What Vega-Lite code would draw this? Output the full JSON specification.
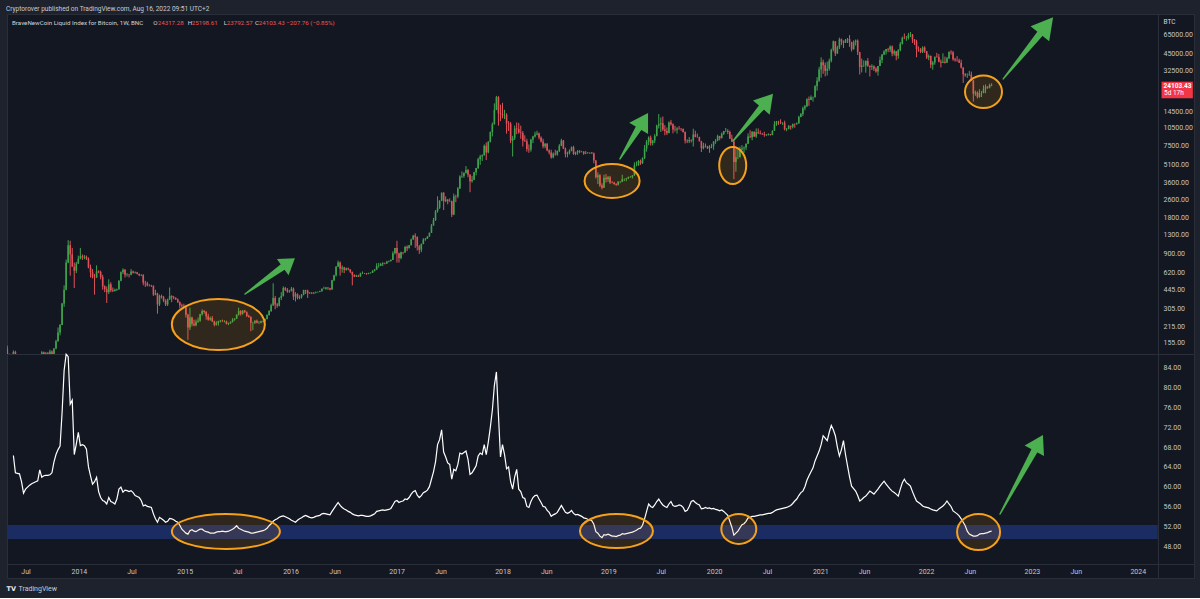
{
"$schema": "https://vega.github.io/schema/vega-lite/v6.json",
"background": "#1e222d",
"bounds": "flush",
"padding": {"left": 6, "right": 7, "top": 6, "bottom": 5},
"config": {
  "font": "Roboto",
  "view": {"fill": "#131722", "stroke": "#2a2e39", "strokeWidth": 1},
  "axis": {"grid": false, "ticks": false, "labelColor": "#c3c6ce", "labelFontSize": 7, "labelFont": "Roboto", "domainColor": "#2a2e39", "domainWidth": 1, "labelFlush": false, "labelOverlap": false}
},
"title": {"text": "Cryptorover published on TradingView.com, Aug 16, 2022 09:51 UTC+2", "anchor": "start", "fontSize": 6.5, "fontWeight": "normal", "color": "#c9ccd4", "offset": 1},
"data": {
  "values": "d,o,h,l,c,r\n2013-04-29,139,147,79,112,\n2013-05-06,112,126,106,117,\n2013-05-13,117,125,111,122,\n2013-05-20,122,134,119,130,66.3\n2013-05-27,130,133,112,122,62.8\n2013-06-03,122,124,100,105,62.7\n2013-06-10,105,111,97,100,62.6\n2013-06-17,100,111,97,103,61\n2013-06-24,103,106,84,89,58.7\n2013-07-01,89,92,65,76,59.5\n2013-07-08,76,98,72,96,59.9\n2013-07-15,96,100,86,93,60.3\n2013-07-22,93,97,89,96,60.6\n2013-07-29,96,106,94,104,60.8\n2013-08-05,104,106,98,103,61\n2013-08-12,103,111,101,110,61.2\n2013-08-19,110,124,109,120,63.4\n2013-08-26,120,132,118,129,61.9\n2013-09-02,129,131,110,118,62.2\n2013-09-09,118,130,115,127,62.3\n2013-09-16,127,130,123,125,62.3\n2013-09-23,125,136,122,131,62.4\n2013-09-30,131,134,109,125,62.8\n2013-10-07,125,140,124,139,65\n2013-10-14,139,165,137,160,66.5\n2013-10-21,160,210,159,190,67.5\n2013-10-28,190,225,180,221,68.2\n2013-11-04,221,340,220,336,75\n2013-11-11,336,480,315,440,83.5\n2013-11-18,440,795,435,750,86.8\n2013-11-25,750,1163,740,1055,86.3\n2013-12-02,1055,1150,580,880,76.7\n2013-12-09,880,1000,800,690,77.5\n2013-12-16,690,750,455,640,66.5\n2013-12-23,640,760,610,735,68.6\n2013-12-30,735,860,730,810,71\n2014-01-06,810,1000,800,850,68.3\n2014-01-13,850,880,790,830,68.5\n2014-01-20,830,870,800,840,68.3\n2014-01-27,840,860,790,810,67.6\n2014-02-03,810,830,670,680,64\n2014-02-10,680,720,560,620,62.2\n2014-02-17,620,660,550,565,60.5\n2014-02-24,565,600,400,560,61\n2014-03-03,560,710,555,630,61.9\n2014-03-10,630,645,610,625,59\n2014-03-17,625,640,540,565,57.8\n2014-03-24,565,590,440,470,57.2\n2014-03-31,470,480,420,445,57\n2014-04-07,445,470,340,420,56.5\n2014-04-14,420,540,405,490,57.8\n2014-04-21,490,510,420,435,57\n2014-04-28,435,460,420,430,56.8\n2014-05-05,430,450,425,440,56.5\n2014-05-12,440,450,430,445,57.5\n2014-05-19,445,530,440,525,59.5\n2014-05-26,525,630,520,620,59.9\n2014-06-02,620,670,600,650,58.9\n2014-06-09,650,660,560,590,59.3\n2014-06-16,590,610,570,595,59.2\n2014-06-23,595,600,560,590,59\n2014-06-30,590,660,585,630,59.2\n2014-07-07,630,640,605,615,58.8\n2014-07-14,615,630,605,620,58.2\n2014-07-21,620,625,595,600,58\n2014-07-28,600,605,575,585,57.8\n2014-08-04,585,595,575,590,57.2\n2014-08-11,590,595,480,505,56.1\n2014-08-18,505,525,465,500,56.3\n2014-08-25,500,515,470,480,56\n2014-09-01,480,490,470,478,55.9\n2014-09-08,478,485,465,475,55.8\n2014-09-15,475,480,390,400,54.5\n2014-09-22,400,440,395,410,53.5\n2014-09-29,410,415,275,330,52.8\n2014-10-06,330,400,320,390,53.8\n2014-10-13,390,400,370,380,53.5\n2014-10-20,380,390,345,355,53.2\n2014-10-27,355,365,320,330,52.8\n2014-11-03,330,370,320,365,53\n2014-11-10,365,460,360,390,53.6\n2014-11-17,390,395,345,380,53.5\n2014-11-24,380,390,365,375,53.3\n2014-12-01,375,380,360,365,53\n2014-12-08,365,370,340,345,52.8\n2014-12-15,345,350,305,325,52.2\n2014-12-22,325,335,312,318,51.4\n2014-12-29,318,335,310,315,51\n2015-01-05,315,320,255,270,50.6\n2015-01-12,270,275,165,210,50.4\n2015-01-19,210,310,200,255,51.1\n2015-01-26,255,260,215,225,51.3\n2015-02-02,225,245,215,220,51\n2015-02-09,220,245,215,235,50.9\n2015-02-16,235,255,230,240,51.2\n2015-02-23,240,275,235,272,51.4\n2015-03-02,272,300,265,290,51.4\n2015-03-09,290,296,275,285,51.1\n2015-03-16,285,290,245,262,50.9\n2015-03-23,262,275,240,245,50.8\n2015-03-30,245,260,240,253,50.6\n2015-04-06,253,263,235,236,50.6\n2015-04-13,236,240,215,222,50.6\n2015-04-20,222,237,218,230,50.8\n2015-04-27,230,240,218,238,50.9\n2015-05-04,238,243,232,240,50.9\n2015-05-11,240,245,235,237,51\n2015-05-18,237,242,232,237,50.9\n2015-05-25,237,240,223,225,50.9\n2015-06-01,225,231,220,228,51\n2015-06-08,228,237,226,234,51.2\n2015-06-15,234,252,232,245,51.4\n2015-06-22,245,251,240,250,51.7\n2015-06-29,250,272,248,270,52.1\n2015-07-06,270,310,265,290,51.6\n2015-07-13,290,295,265,275,51.4\n2015-07-20,275,296,270,292,51.2\n2015-07-27,292,297,280,283,51\n2015-08-03,283,288,258,263,50.9\n2015-08-10,263,270,255,258,50.8\n2015-08-17,258,262,195,230,50.6\n2015-08-24,230,235,199,230,50.6\n2015-08-31,230,242,225,240,50.7\n2015-09-07,240,245,228,230,50.8\n2015-09-14,230,238,225,231,50.9\n2015-09-21,231,240,228,237,51\n2015-09-28,237,241,233,238,51.1\n2015-10-05,238,250,235,248,51.3\n2015-10-12,248,272,246,268,51.6\n2015-10-19,268,295,265,290,52.1\n2015-10-26,290,335,285,325,52.5\n2015-11-02,325,500,320,375,53\n2015-11-09,375,390,300,330,53.3\n2015-11-16,330,340,310,322,53.5\n2015-11-23,322,380,318,375,53.8\n2015-11-30,375,420,360,390,54\n2015-12-07,390,470,385,455,54.1\n2015-12-14,455,465,430,440,53.9\n2015-12-21,440,455,415,425,53.7\n2015-12-28,425,440,415,430,53.5\n2016-01-04,430,465,425,450,53.2\n2016-01-11,450,460,360,385,53\n2016-01-18,385,420,350,405,52.8\n2016-01-25,405,410,365,375,53.2\n2016-02-01,375,395,365,383,53.5\n2016-02-08,383,405,370,400,53.7\n2016-02-15,400,440,395,438,54\n2016-02-22,438,440,405,432,54.2\n2016-02-29,432,440,375,412,54\n2016-03-07,412,420,405,415,53.8\n2016-03-14,415,420,405,410,53.7\n2016-03-21,410,420,405,416,53.8\n2016-03-28,416,425,410,420,54\n2016-04-04,420,425,417,422,54.1\n2016-04-11,422,432,420,428,54.2\n2016-04-18,428,452,425,448,54.5\n2016-04-25,448,468,445,450,54.6\n2016-05-02,450,465,440,460,54.5\n2016-05-09,460,462,440,454,54.4\n2016-05-16,454,457,435,443,54.3\n2016-05-23,443,535,440,530,55\n2016-05-30,530,590,520,585,55.6\n2016-06-06,585,700,570,690,56.2\n2016-06-13,690,780,690,750,56.8\n2016-06-20,750,765,580,665,56.2\n2016-06-27,665,710,615,680,55.8\n2016-07-04,680,690,610,650,55.5\n2016-07-11,650,680,640,670,55.3\n2016-07-18,670,680,645,656,55\n2016-07-25,656,660,610,625,54.8\n2016-08-01,625,628,480,590,54.5\n2016-08-08,590,595,565,570,54.3\n2016-08-15,570,590,565,580,54.2\n2016-08-22,580,590,565,570,54.1\n2016-08-29,570,615,568,606,54.2\n2016-09-05,606,630,600,608,54.2\n2016-09-12,608,612,600,607,54.1\n2016-09-19,607,610,590,600,54\n2016-09-26,600,615,597,610,54\n2016-10-03,610,620,605,615,54.1\n2016-10-10,615,645,612,640,54.3\n2016-10-17,640,660,630,655,54.5\n2016-10-24,655,740,650,700,55\n2016-10-31,700,745,680,705,55.1\n2016-11-07,705,745,700,730,55.2\n2016-11-14,730,755,700,740,55.3\n2016-11-21,740,750,725,735,55.2\n2016-11-28,735,775,730,765,55.3\n2016-12-05,765,780,755,775,55.4\n2016-12-12,775,800,765,790,55.6\n2016-12-19,790,935,790,900,56.3\n2016-12-26,900,1000,880,1000,57\n2017-01-02,1000,1150,750,900,57.2\n2017-01-09,900,910,750,820,56.8\n2017-01-16,820,930,800,920,57\n2017-01-23,920,925,880,915,57.1\n2017-01-30,915,1040,910,1020,57.5\n2017-02-06,1020,1050,940,995,57.4\n2017-02-13,995,1060,990,1055,57.8\n2017-02-20,1055,1200,1050,1180,58.5\n2017-02-27,1180,1290,1175,1270,59\n2017-03-06,1270,1330,1000,1240,59.2\n2017-03-13,1240,1255,950,1030,58.3\n2017-03-20,1030,1060,890,965,57.8\n2017-03-27,965,1090,920,1080,58.2\n2017-04-03,1080,1210,1075,1180,58.8\n2017-04-10,1180,1215,1150,1195,59\n2017-04-17,1195,1260,1190,1250,59.3\n2017-04-24,1250,1350,1245,1345,60\n2017-05-01,1345,1600,1340,1550,61.5\n2017-05-08,1550,1800,1550,1720,63\n2017-05-15,1720,2100,1700,2050,65\n2017-05-22,2050,2750,2000,2200,68.5\n2017-05-29,2200,2550,2150,2520,69.5\n2017-06-05,2520,2960,2500,2950,71.5\n2017-06-12,2950,2980,2100,2500,67\n2017-06-19,2500,2750,2450,2580,66\n2017-06-26,2580,2600,2350,2500,64.8\n2017-07-03,2500,2640,2450,2500,64.5\n2017-07-10,2500,2530,1830,1920,61.5\n2017-07-17,1920,2900,1900,2750,63.5\n2017-07-24,2750,2830,2450,2740,63.2\n2017-07-31,2740,3300,2650,3200,64.5\n2017-08-07,3200,4150,3180,4050,66.8\n2017-08-14,4050,4480,3950,4100,66.6\n2017-08-21,4100,4400,3950,4350,66.9\n2017-08-28,4350,4980,4300,4600,67.2\n2017-09-04,4600,4700,4000,4200,65.5\n2017-09-11,4200,4250,2980,3700,62.5\n2017-09-18,3700,4100,3600,3800,62.8\n2017-09-25,3800,4450,3770,4400,63.5\n2017-10-02,4400,4800,4150,4780,64.2\n2017-10-09,4780,5850,4700,5700,66.2\n2017-10-16,5700,6200,5100,6000,66.8\n2017-10-23,6000,6250,5500,6150,66.5\n2017-10-30,6150,7600,6100,7400,68.5\n2017-11-06,7400,7900,5600,6500,66.5\n2017-11-13,6500,8100,6400,8000,69\n2017-11-20,8000,9800,7900,9700,72\n2017-11-27,9700,11700,8900,11300,75.5\n2017-12-04,11300,17000,11200,15000,80.5\n2017-12-11,15000,19700,14900,19200,83.2\n2017-12-18,19200,19600,11000,14000,74.5\n2017-12-25,14000,16600,12000,13800,66\n2018-01-01,13800,17200,12700,13500,68.5\n2018-01-08,13500,15000,12500,13600,66.5\n2018-01-15,13600,14000,9400,11500,63.6\n2018-01-22,11500,12000,9900,11400,64\n2018-01-29,11400,11800,7800,8200,61\n2018-02-05,8200,9000,6000,8600,59.5\n2018-02-12,8600,11000,8300,10400,62\n2018-02-19,10400,11700,9300,10300,63.5\n2018-02-26,10300,11600,9400,9600,59.5\n2018-03-05,9600,11000,8500,9500,59\n2018-03-12,9500,9900,7300,8200,57.8\n2018-03-19,8200,9100,8000,8100,57.6\n2018-03-26,8100,8500,6600,6950,56\n2018-04-02,6950,7600,6450,6900,55.8\n2018-04-09,6900,8500,6600,8350,57\n2018-04-16,8350,9000,7800,8900,57.8\n2018-04-23,8900,9750,8700,9250,58.2\n2018-04-30,9250,9950,9100,9400,58.3\n2018-05-07,9400,9600,8400,8700,57.5\n2018-05-14,8700,8900,7900,8050,56.8\n2018-05-21,8050,8500,7050,7350,56\n2018-05-28,7350,7800,7050,7700,55.9\n2018-06-04,7700,7800,6650,6750,55.2\n2018-06-11,6750,6900,6250,6500,54.8\n2018-06-18,6500,6850,5750,5900,54\n2018-06-25,5900,6500,5800,6350,54.3\n2018-07-02,6350,6850,6100,6250,54.5\n2018-07-09,6250,6750,6100,6700,54.8\n2018-07-16,6700,7650,6550,7400,55.5\n2018-07-23,7400,8500,7350,8200,56.2\n2018-07-30,8200,8300,6950,7000,55.5\n2018-08-06,7000,7150,5900,6300,54.8\n2018-08-13,6300,6600,5900,6400,54.6\n2018-08-20,6400,6900,6250,6700,54.8\n2018-08-27,6700,7300,6650,7200,55.2\n2018-09-03,7200,7400,6200,6300,54.6\n2018-09-10,6300,6600,6150,6500,54.3\n2018-09-17,6500,6800,6200,6700,54.4\n2018-09-24,6700,6800,6400,6600,54.2\n2018-10-01,6600,6700,6500,6600,54\n2018-10-08,6600,6650,6200,6350,53.7\n2018-10-15,6350,6700,6300,6450,53.6\n2018-10-22,6450,6550,6350,6420,53.4\n2018-10-29,6420,6500,6300,6450,53.3\n2018-11-05,6450,6550,6350,6380,53.1\n2018-11-12,6380,6500,5250,5550,52.4\n2018-11-19,5550,5600,3900,4000,50.9\n2018-11-26,4000,4400,3500,4150,50.6\n2018-12-03,4150,4250,3300,3400,50\n2018-12-10,3400,3550,3150,3250,49.7\n2018-12-17,3250,4200,3250,3950,50.3\n2018-12-24,3950,4250,3600,3850,50.2\n2018-12-31,3850,4100,3650,4000,50.4\n2019-01-07,4000,4100,3500,3600,50.2\n2019-01-14,3600,3700,3550,3580,50\n2019-01-21,3580,3650,3450,3500,50\n2019-01-28,3500,3550,3380,3450,49.9\n2019-02-04,3450,3700,3400,3650,50.1\n2019-02-11,3650,3700,3550,3650,50.2\n2019-02-18,3650,4200,3640,3850,50.5\n2019-02-25,3850,3900,3700,3850,50.4\n2019-03-04,3850,3950,3700,3900,50.5\n2019-03-11,3900,4050,3850,4000,50.6\n2019-03-18,4000,4100,3950,4000,50.7\n2019-03-25,4000,4150,3900,4150,50.8\n2019-04-01,4150,5350,4100,5050,51\n2019-04-08,5050,5450,4950,5050,51.2\n2019-04-15,5050,5600,5000,5500,51.5\n2019-04-22,5500,5650,5100,5250,51.6\n2019-04-29,5250,5900,5200,5800,52.2\n2019-05-06,5800,7500,5700,7000,53.5\n2019-05-13,7000,8300,6600,8000,55\n2019-05-20,8000,8900,7500,8700,56.5\n2019-05-27,8700,9050,7450,7800,56\n2019-06-03,7800,8300,7450,8200,55.8\n2019-06-10,8200,9300,7800,9000,56.3\n2019-06-17,9000,11200,8900,11000,57\n2019-06-24,11000,13800,10400,11300,57.5\n2019-07-01,11300,12900,9700,11500,56.8\n2019-07-08,11500,13150,9900,10200,56.3\n2019-07-15,10200,11100,9100,9900,56\n2019-07-22,9900,10600,9150,9500,55.8\n2019-07-29,9500,11950,9450,11700,56.5\n2019-08-05,11700,12300,11000,11300,57\n2019-08-12,11300,11500,9450,10200,56.2\n2019-08-19,10200,10950,9800,10150,56\n2019-08-26,10150,10650,9400,10400,56.1\n2019-09-02,10400,10900,10150,10350,56.3\n2019-09-09,10350,10500,9900,10300,56.2\n2019-09-16,10300,10400,9600,9700,55.8\n2019-09-23,9700,9800,7750,8200,55\n2019-09-30,8200,8400,7800,8100,55.2\n2019-10-07,8100,8800,7800,8300,56\n2019-10-14,8300,8400,7900,8200,57\n2019-10-21,8200,10350,7300,9250,57.2\n2019-10-28,9250,9950,8750,8800,56.8\n2019-11-04,8800,9400,8700,8750,56.5\n2019-11-11,8750,8850,8050,8100,56.3\n2019-11-18,8100,8150,6550,7050,55.5\n2019-11-25,7050,7850,6900,7400,55.6\n2019-12-02,7400,7750,7150,7350,55.8\n2019-12-09,7350,7400,6950,7050,55.6\n2019-12-16,7050,7500,6450,7300,55.7\n2019-12-23,7300,7700,7050,7400,55.5\n2019-12-30,7400,8100,6850,8050,55.6\n2020-01-06,8050,8450,7700,8200,55.4\n2020-01-13,8200,9200,8100,8950,55.3\n2020-01-20,8950,9000,8250,8600,55.1\n2020-01-27,8600,9600,8550,9350,55.3\n2020-02-03,9350,9900,9150,9900,55\n2020-02-10,9900,10500,9700,9900,54.6\n2020-02-17,9900,10250,9300,9700,54.2\n2020-02-24,9700,9950,8450,8550,53\n2020-03-02,8550,9200,8000,8050,51.8\n2020-03-09,8050,8200,3850,5400,50.2\n2020-03-16,5400,6950,4450,5900,50.6\n2020-03-23,5900,6900,5700,5900,51\n2020-03-30,5900,7300,5900,6900,51.7\n2020-04-06,6900,7500,6750,7050,52.3\n2020-04-13,7050,7300,6450,7150,52.5\n2020-04-20,7150,7750,6800,7700,53\n2020-04-27,7700,9450,7650,8900,53.7\n2020-05-04,8900,10050,8600,8750,53.8\n2020-05-11,8750,9900,8250,9700,54\n2020-05-18,9700,9850,8800,8900,54\n2020-05-25,8900,10400,8650,9650,54.1\n2020-06-01,9650,10400,9350,9450,54.2\n2020-06-08,9450,10000,9250,9350,54.3\n2020-06-15,9350,9550,9200,9250,54.3\n2020-06-22,9250,9750,8850,9150,54.4\n2020-06-29,9150,9300,8950,9200,54.5\n2020-07-06,9200,9450,9050,9300,54.6\n2020-07-13,9300,9350,9050,9150,54.6\n2020-07-20,9150,10000,9100,9950,54.8\n2020-07-27,9950,12000,9900,11300,55.1\n2020-08-03,11300,12050,10950,11900,55.3\n2020-08-10,11900,12100,11150,11850,55.4\n2020-08-17,11850,12450,11350,11650,55.5\n2020-08-24,11650,11750,11150,11650,55.6\n2020-08-31,11650,12100,10000,10250,55.7\n2020-09-07,10250,10500,9850,10350,55.8\n2020-09-14,10350,11100,10200,10950,56\n2020-09-21,10950,11000,10150,10750,56.2\n2020-09-28,10750,11450,10400,11350,56.6\n2020-10-05,11350,11500,10550,11300,57.1\n2020-10-12,11300,11700,11200,11500,57.5\n2020-10-19,11500,13350,11400,13050,58.2\n2020-10-26,13050,14100,12950,13800,58.8\n2020-11-02,13800,15950,13250,15450,59.1\n2020-11-09,15450,16500,14850,16050,60\n2020-11-16,16050,18800,15800,18400,61.3\n2020-11-23,18400,19450,16200,18200,62.2\n2020-11-30,18200,19900,18200,19150,63\n2020-12-07,19150,19400,17600,19250,63.8\n2020-12-14,19250,24300,19000,23750,65.2\n2020-12-21,23750,28400,21800,26500,66.2\n2020-12-28,26500,34800,25900,33000,67.2\n2021-01-04,33000,41950,28100,38150,68.5\n2021-01-11,38150,40100,30400,36000,70.3\n2021-01-18,36000,37850,28850,32200,69.8\n2021-01-25,32200,38500,29400,33500,69.3\n2021-02-01,33500,40900,32300,39200,71\n2021-02-08,39200,49700,38000,48600,72.4\n2021-02-15,48600,58300,47000,57450,71.5\n2021-02-22,57450,57500,43000,45200,70.3\n2021-03-01,45200,52650,44950,51000,68\n2021-03-08,51000,61700,49300,59750,66.2\n2021-03-15,59750,60600,53300,57350,67.5\n2021-03-22,57350,58400,50400,55800,69.3\n2021-03-29,55800,60100,55600,59100,66.5\n2021-04-05,59100,61300,55550,60000,64.2\n2021-04-12,60000,64850,51500,56250,62\n2021-04-19,56250,57000,47050,49100,60.1\n2021-04-26,49100,58450,48800,56600,59.6\n2021-05-03,56600,59500,52900,58200,59.1\n2021-05-10,58200,59600,43900,46400,58.2\n2021-05-17,46400,46700,30000,34700,57.1\n2021-05-24,34700,40900,31200,35600,57.4\n2021-05-31,35600,39500,34800,35800,57.8\n2021-06-07,35800,39400,31050,39050,58.1\n2021-06-14,39050,41300,34800,35500,58.6\n2021-06-21,35500,35700,28800,34700,59.1\n2021-06-28,34700,36650,32700,35300,58.8\n2021-07-05,35300,35850,32100,33500,58.5\n2021-07-12,33500,34600,31050,31800,59\n2021-07-19,31800,35450,29300,35400,59.5\n2021-07-26,35400,42600,35300,39850,60.1\n2021-08-02,39850,44800,37500,44450,60.6\n2021-08-09,44450,48150,43750,47050,61.1\n2021-08-16,47050,49400,44250,49300,60.5\n2021-08-23,49300,50500,46350,48950,60\n2021-08-30,48950,52950,46550,51750,59.5\n2021-09-06,51750,52900,42850,45150,59.1\n2021-09-13,45150,48850,43400,47300,58.8\n2021-09-20,47300,47400,39600,43200,58.5\n2021-09-27,43200,49250,40750,48200,58.1\n2021-10-04,48200,56600,47200,54650,59.5\n2021-10-11,54650,62900,53900,61550,60.8\n2021-10-18,61550,67000,59850,61300,61.5\n2021-10-25,61300,63700,58000,61300,60.8\n2021-11-01,61300,67750,59500,64950,60.5\n2021-11-08,64950,69000,62400,65500,60.1\n2021-11-15,65500,66300,55600,59700,59\n2021-11-22,59700,59900,53550,57300,58\n2021-11-29,57300,59100,42000,49300,57.1\n2021-12-06,49300,51900,46800,48900,56.8\n2021-12-13,48900,50400,45600,46700,56.5\n2021-12-20,46700,52000,45550,50800,56.1\n2021-12-27,50800,52100,45700,47300,55.9\n2022-01-03,47300,47550,40600,41850,55.8\n2022-01-10,41850,44450,39650,43100,55.7\n2022-01-17,43100,43500,34000,36300,55.5\n2022-01-24,36300,38950,32900,37900,55.3\n2022-01-31,37900,42600,36300,42400,55.2\n2022-02-07,42400,45800,41700,42200,55.1\n2022-02-14,42200,44750,38050,38400,55.5\n2022-02-21,38400,40150,34350,37700,55.8\n2022-02-28,37700,45400,37500,38400,56.1\n2022-03-07,38400,42550,37150,37800,56.5\n2022-03-14,37800,42300,37600,41250,57.1\n2022-03-21,41250,46900,40500,46850,56.5\n2022-03-28,46850,48200,44200,46400,56\n2022-04-04,46400,47450,39200,40400,55.1\n2022-04-11,40400,41550,38550,39700,54.8\n2022-04-18,39700,42950,38550,39450,54.5\n2022-04-25,39450,40800,37600,37700,54.1\n2022-05-02,37700,40050,33700,34300,53.5\n2022-05-09,34300,34500,25400,30100,52.8\n2022-05-16,30100,30800,28650,29450,52.1\n2022-05-23,29450,30650,28000,29450,51\n2022-05-30,29450,32200,29300,29900,50.4\n2022-06-06,29900,31700,26550,26600,50.2\n2022-06-13,26600,26900,17600,20550,50\n2022-06-20,20550,21850,19700,21050,50\n2022-06-27,21050,21550,18750,19300,50.1\n2022-07-04,19300,22450,19000,20850,50.4\n2022-07-11,20850,21650,19250,20800,50.5\n2022-07-18,20800,24250,20750,22600,50.5\n2022-07-25,22600,24650,20750,23650,50.6\n2022-08-01,23650,23700,22650,23200,50.7\n2022-08-08,23200,25050,22850,24311.19,50.9\n2022-08-15,24317.28,25198.61,23792.57,24103.43,51",
  "format": {"type": "csv", "parse": {"d": "date", "o": "number", "h": "number", "l": "number", "c": "number", "r": "number"}}
},
"spacing": 0,
"vconcat": [
{
  "width": 1187,
  "height": 340,
  "resolve": {"scale": {"shape": "independent"}},
  "layer": [
    {
      "mark": {"type": "rule", "clip": true, "strokeWidth": 1},
      "encoding": {
        "x": {"field": "d", "type": "temporal", "scale": {"type": "utc", "domain": [{"year": 2013, "month": 4, "date": 28, "utc": true}, {"year": 2024, "month": 7, "date": 13, "utc": true}]}, "axis": null},
        "y": {"field": "l", "type": "quantitative", "scale": {"type": "log", "domain": [124.9, 98100], "nice": false, "zero": false},
          "axis": {"orient": "right", "offset": -36, "values": [155, 215, 305, 445, 620, 900, 1300, 1800, 2600, 3600, 5100, 7500, 10500, 14500, 32500, 45000, 65000], "tickCount": 60, "format": ".2f", "labelAlign": "left", "labelPadding": 5, "labelBaseline": "middle", "labelOverlap": false, "title": "BTC", "titleAngle": 0, "titleAlign": "left", "titleBaseline": "middle", "titleX": 5, "titleY": 7, "titleFontSize": 6.5, "titleFontWeight": "normal", "titleColor": "#d1d4dc", "titleFont": "Roboto"}},
        "y2": {"field": "h"},
        "color": {"condition": {"test": "datum.c >= datum.o", "value": "#3fa34d"}, "value": "#e0525a"}
      }
    },
    {
      "mark": {"type": "rule", "clip": true, "strokeWidth": 1.6},
      "encoding": {
        "x": {"field": "d", "type": "temporal", "scale": {"type": "utc", "domain": [{"year": 2013, "month": 4, "date": 28, "utc": true}, {"year": 2024, "month": 7, "date": 13, "utc": true}]}, "axis": null},
        "y": {"field": "o", "type": "quantitative", "scale": {"type": "log", "domain": [124.9, 98100], "nice": false, "zero": false}},
        "y2": {"field": "c"},
        "color": {"condition": {"test": "datum.c >= datum.o", "value": "#3fa34d"}, "value": "#e0525a"}
      }
    },
    {
      "data": {"values": [
        {"id": "e1", "d": "2015-04-27", "p": 222.7},
        {"id": "e2", "d": "2019-01-14", "p": 3714},
        {"id": "e3", "d": "2020-03-05", "p": 5035},
        {"id": "e4", "d": "2022-07-18", "p": 21330}
      ]},
      "mark": {"type": "point", "fill": "#ff9800", "fillOpacity": 0.13, "stroke": "#f5a11c", "strokeWidth": 2, "opacity": 1},
      "encoding": {
        "x": {"field": "d", "type": "temporal", "scale": {"type": "utc", "domain": [{"year": 2013, "month": 4, "date": 28, "utc": true}, {"year": 2024, "month": 7, "date": 13, "utc": true}]}, "axis": null},
        "y": {"field": "p", "type": "quantitative", "scale": {"type": "log", "domain": [124.9, 98100], "nice": false, "zero": false}},
        "shape": {"field": "id", "type": "nominal", "legend": null, "scale": {"domain": ["e1", "e2", "e3", "e4"], "range": [
          "M46.5,0C46.5,14.08,25.68,25.5,0,25.5C-25.68,25.5,-46.5,14.08,-46.5,0C-46.5,-14.08,-25.68,-25.5,0,-25.5C25.68,-25.5,46.5,-14.08,46.5,0Z",
          "M27.5,0C27.5,9.39,15.19,17,0,17C-15.19,17,-27.5,9.39,-27.5,0C-27.5,-9.39,-15.19,-17,0,-17C15.19,-17,27.5,-9.39,27.5,0Z",
          "M13.5,0C13.5,10.22,7.46,18.5,0,18.5C-7.46,18.5,-13.5,10.22,-13.5,0C-13.5,-10.22,-7.46,-18.5,0,-18.5C7.46,-18.5,13.5,-10.22,13.5,0Z",
          "M18.5,0C18.5,9,10.22,16.3,0,16.3C-10.22,16.3,-18.5,9,-18.5,0C-18.5,-9,-10.22,-16.3,0,-16.3C10.22,-16.3,18.5,-9,18.5,0Z"
        ]}},
        "size": {"value": 4}
      }
    },
    {
      "data": {"values": [
        {"a": "a1", "k": 0, "d": "2015-07-28", "p": 405},
        {"a": "a1", "k": 1, "d": "2015-12-13", "p": 711},
        {"a": "a2", "k": 0, "d": "2019-02-10", "p": 5720},
        {"a": "a2", "k": 1, "d": "2019-04-22", "p": 11110},
        {"a": "a3", "k": 0, "d": "2020-03-06", "p": 8140},
        {"a": "a3", "k": 1, "d": "2020-06-21", "p": 16660},
        {"a": "a4", "k": 0, "d": "2022-09-24", "p": 27500},
        {"a": "a4", "k": 1, "d": "2023-02-07", "p": 70960}
      ]},
      "mark": {"type": "trail", "color": "#4caf50"},
      "encoding": {
        "x": {"field": "d", "type": "temporal", "scale": {"type": "utc", "domain": [{"year": 2013, "month": 4, "date": 28, "utc": true}, {"year": 2024, "month": 7, "date": 13, "utc": true}]}, "axis": null},
        "y": {"field": "p", "type": "quantitative", "scale": {"type": "log", "domain": [124.9, 98100], "nice": false, "zero": false}},
        "detail": {"field": "a", "type": "nominal"},
        "size": {"field": "k", "type": "quantitative", "scale": {"domain": [0, 1], "range": [1.5, 7]}, "legend": null}
      }
    },
    {
      "data": {"values": [
        {"a": "a1", "d": "2016-01-16", "p": 815},
        {"a": "a2", "d": "2019-05-18", "p": 14080},
        {"a": "a3", "d": "2020-07-22", "p": 20500},
        {"a": "a4", "d": "2023-03-15", "p": 91840}
      ]},
      "mark": {"type": "point", "filled": true, "color": "#4caf50", "opacity": 1, "strokeWidth": 0},
      "encoding": {
        "x": {"field": "d", "type": "temporal", "scale": {"type": "utc", "domain": [{"year": 2013, "month": 4, "date": 28, "utc": true}, {"year": 2024, "month": 7, "date": 13, "utc": true}]}, "axis": null},
        "y": {"field": "p", "type": "quantitative", "scale": {"type": "log", "domain": [124.9, 98100], "nice": false, "zero": false}},
        "shape": {"field": "a", "type": "nominal", "legend": null, "scale": {"domain": ["a1", "a2", "a3", "a4"], "range": [
          "M0,0L-18.02,0.57L-6.4,16.85Z",
          "M0,0L-18.75,9.67L0.05,21.09Z",
          "M0,0L-20.05,6.58L-3.29,20.84Z",
          "M0,0L-22.55,8.77L-3.89,23.87Z"
        ]}},
        "size": {"value": 4}
      }
    },
    {
      "data": {"values": [{}]},
      "encoding": {
        "x": {"datum": {"year": 2013, "month": 4, "date": 28, "utc": true}, "type": "temporal", "scale": {"type": "utc", "domain": [{"year": 2013, "month": 4, "date": 28, "utc": true}, {"year": 2024, "month": 7, "date": 13, "utc": true}]}, "axis": null},
        "y": {"datum": 98100, "type": "quantitative", "scale": {"type": "log", "domain": [124.9, 98100], "nice": false, "zero": false}}
      },
      "layer": [
        {"mark": {"type": "text", "align": "left", "baseline": "middle", "fontSize": 6.2, "color": "#d1d4dc", "dx": 5, "dy": 8.7, "text": "BraveNewCoin Liquid Index for Bitcoin, 1W, BNC"}},
        {"mark": {"type": "text", "align": "left", "baseline": "middle", "fontSize": 6.2, "color": "#d1d4dc", "dx": 146.3, "dy": 8.7, "text": "O"}},
        {"mark": {"type": "text", "align": "left", "baseline": "middle", "fontSize": 6.2, "color": "#ef5350", "dx": 150.7, "dy": 8.7, "text": "24317.28"}},
        {"mark": {"type": "text", "align": "left", "baseline": "middle", "fontSize": 6.2, "color": "#d1d4dc", "dx": 180.7, "dy": 8.7, "text": "H"}},
        {"mark": {"type": "text", "align": "left", "baseline": "middle", "fontSize": 6.2, "color": "#ef5350", "dx": 184.7, "dy": 8.7, "text": "25198.61"}},
        {"mark": {"type": "text", "align": "left", "baseline": "middle", "fontSize": 6.2, "color": "#d1d4dc", "dx": 216.7, "dy": 8.7, "text": "L"}},
        {"mark": {"type": "text", "align": "left", "baseline": "middle", "fontSize": 6.2, "color": "#ef5350", "dx": 219.7, "dy": 8.7, "text": "23792.57"}},
        {"mark": {"type": "text", "align": "left", "baseline": "middle", "fontSize": 6.2, "color": "#d1d4dc", "dx": 248, "dy": 8.7, "text": "C"}},
        {"mark": {"type": "text", "align": "left", "baseline": "middle", "fontSize": 6.2, "color": "#ef5350", "dx": 251.7, "dy": 8.7, "text": "24103.43  −207.76 (−0.85%)"}}
      ]
    },
    {
      "data": {"values": [{}]},
      "mark": {"type": "rect", "color": "#f23645"},
      "encoding": {
        "x": {"datum": {"year": 2024, "month": 3, "date": 23, "utc": true}, "type": "temporal", "scale": {"type": "utc", "domain": [{"year": 2013, "month": 4, "date": 28, "utc": true}, {"year": 2024, "month": 7, "date": 13, "utc": true}]}, "axis": null},
        "x2": {"datum": {"year": 2024, "month": 7, "date": 9, "utc": true}},
        "y": {"datum": 26020, "type": "quantitative", "scale": {"type": "log", "domain": [124.9, 98100], "nice": false, "zero": false}},
        "y2": {"datum": 18800}
      }
    },
    {
      "data": {"values": [{}]},
      "encoding": {
        "x": {"datum": {"year": 2024, "month": 3, "date": 23, "utc": true}, "type": "temporal", "scale": {"type": "utc", "domain": [{"year": 2013, "month": 4, "date": 28, "utc": true}, {"year": 2024, "month": 7, "date": 13, "utc": true}]}, "axis": null},
        "y": {"datum": 24103.43, "type": "quantitative", "scale": {"type": "log", "domain": [124.9, 98100], "nice": false, "zero": false}}
      },
      "layer": [
        {"mark": {"type": "text", "align": "left", "baseline": "middle", "fontSize": 6.5, "fontWeight": "bold", "color": "#ffffff", "dx": 2, "text": "24103.43"}},
        {"mark": {"type": "text", "align": "left", "baseline": "middle", "fontSize": 6.5, "color": "#ffffff", "dx": 2.5, "dy": 7, "text": "5d 17h"}}
      ]
    }
  ]
},
{
  "width": 1187,
  "height": 224,
  "resolve": {"scale": {"shape": "independent"}},
  "layer": [
    {
      "data": {"values": [{"d": "2013-04-28", "d2": "2024-03-10", "lo": 49.4, "hi": 52.25}]},
      "mark": {"type": "rect", "color": "#1b2c63"},
      "encoding": {
        "x": {"field": "d", "type": "temporal", "scale": {"type": "utc", "domain": [{"year": 2013, "month": 4, "date": 28, "utc": true}, {"year": 2024, "month": 7, "date": 13, "utc": true}]},
          "axis": {"orient": "bottom", "offset": -14, "labelPadding": 3, "labelBaseline": "top", "labelOverlap": false, "tickCount": 60, "domainColor": "#2a2e39", "title": null,
            "values": [
              {"year": 2013, "month": 7, "date": 1, "utc": true}, {"year": 2014, "month": 1, "date": 1, "utc": true},
              {"year": 2014, "month": 7, "date": 1, "utc": true}, {"year": 2015, "month": 1, "date": 1, "utc": true},
              {"year": 2015, "month": 7, "date": 1, "utc": true}, {"year": 2016, "month": 1, "date": 1, "utc": true},
              {"year": 2016, "month": 6, "date": 1, "utc": true}, {"year": 2017, "month": 1, "date": 1, "utc": true},
              {"year": 2017, "month": 6, "date": 1, "utc": true}, {"year": 2018, "month": 1, "date": 1, "utc": true},
              {"year": 2018, "month": 6, "date": 1, "utc": true}, {"year": 2019, "month": 1, "date": 1, "utc": true},
              {"year": 2019, "month": 7, "date": 1, "utc": true}, {"year": 2020, "month": 1, "date": 1, "utc": true},
              {"year": 2020, "month": 7, "date": 1, "utc": true}, {"year": 2021, "month": 1, "date": 1, "utc": true},
              {"year": 2021, "month": 6, "date": 1, "utc": true}, {"year": 2022, "month": 1, "date": 1, "utc": true},
              {"year": 2022, "month": 6, "date": 1, "utc": true}, {"year": 2023, "month": 1, "date": 1, "utc": true},
              {"year": 2023, "month": 6, "date": 1, "utc": true}, {"year": 2024, "month": 1, "date": 1, "utc": true}
            ],
            "labelExpr": "utcFormat(datum.value, '%m') == '01' ? utcFormat(datum.value, '%Y') : utcFormat(datum.value, '%b')"}},
        "x2": {"field": "d2"},
        "y": {"field": "lo", "type": "quantitative", "scale": {"domain": [41.53, 86.83], "nice": false, "zero": false},
          "axis": {"orient": "right", "offset": -36, "values": [48, 52, 56, 60, 64, 68, 72, 76, 80, 84], "tickCount": 60, "format": ".2f", "labelAlign": "left", "labelPadding": 5, "labelBaseline": "middle", "labelOverlap": false, "title": null}},
        "y2": {"field": "hi"}
      }
    },
    {
      "mark": {"type": "line", "color": "#ffffff", "strokeWidth": 1.2},
      "encoding": {
        "x": {"field": "d", "type": "temporal", "scale": {"type": "utc", "domain": [{"year": 2013, "month": 4, "date": 28, "utc": true}, {"year": 2024, "month": 7, "date": 13, "utc": true}]}},
        "y": {"field": "r", "type": "quantitative", "scale": {"domain": [41.53, 86.83], "nice": false, "zero": false}}
      }
    },
    {
      "data": {"values": [
        {"id": "e5", "d": "2015-05-23", "v": 50.93},
        {"id": "e6", "d": "2019-01-29", "v": 51.03},
        {"id": "e7", "d": "2020-03-26", "v": 51.44},
        {"id": "e8", "d": "2022-07-01", "v": 50.83}
      ]},
      "mark": {"type": "point", "fill": "#ff9800", "fillOpacity": 0.12, "stroke": "#f5a11c", "strokeWidth": 2, "opacity": 1},
      "encoding": {
        "x": {"field": "d", "type": "temporal", "scale": {"type": "utc", "domain": [{"year": 2013, "month": 4, "date": 28, "utc": true}, {"year": 2024, "month": 7, "date": 13, "utc": true}]}},
        "y": {"field": "v", "type": "quantitative", "scale": {"domain": [41.53, 86.83], "nice": false, "zero": false}},
        "shape": {"field": "id", "type": "nominal", "legend": null, "scale": {"domain": ["e5", "e6", "e7", "e8"], "range": [
          "M54,0C54,9.67,29.82,17.5,0,17.5C-29.82,17.5,-54,9.67,-54,0C-54,-9.67,-29.82,-17.5,0,-17.5C29.82,-17.5,54,-9.67,54,0Z",
          "M36.5,0C36.5,9.39,20.16,17,0,17C-20.16,17,-36.5,9.39,-36.5,0C-36.5,-9.39,-20.16,-17,0,-17C20.16,-17,36.5,-9.39,36.5,0Z",
          "M17.5,0C17.5,8.28,9.67,15,0,15C-9.67,15,-17.5,8.28,-17.5,0C-17.5,-8.28,-9.67,-15,0,-15C9.67,-15,17.5,-8.28,17.5,0Z",
          "M21.5,0C21.5,9.94,11.87,18,0,18C-11.87,18,-21.5,9.94,-21.5,0C-21.5,-9.94,-11.87,-18,0,-18C11.87,-18,21.5,-9.94,21.5,0Z"
        ]}},
        "size": {"value": 4}
      }
    },
    {
      "data": {"values": [
        {"a": "a5", "k": 0, "d": "2022-09-13", "v": 54.47},
        {"a": "a5", "k": 1, "d": "2023-01-16", "v": 67.96}
      ]},
      "mark": {"type": "trail", "color": "#4caf50"},
      "encoding": {
        "x": {"field": "d", "type": "temporal", "scale": {"type": "utc", "domain": [{"year": 2013, "month": 4, "date": 28, "utc": true}, {"year": 2024, "month": 7, "date": 13, "utc": true}]}},
        "y": {"field": "v", "type": "quantitative", "scale": {"domain": [41.53, 86.83], "nice": false, "zero": false}},
        "detail": {"field": "a", "type": "nominal"},
        "size": {"field": "k", "type": "quantitative", "scale": {"domain": [0, 1], "range": [1.5, 7]}, "legend": null}
      }
    },
    {
      "data": {"values": [{"a": "a5", "d": "2023-02-08", "v": 70.45}]},
      "mark": {"type": "point", "filled": true, "color": "#4caf50", "opacity": 1, "strokeWidth": 0},
      "encoding": {
        "x": {"field": "d", "type": "temporal", "scale": {"type": "utc", "domain": [{"year": 2013, "month": 4, "date": 28, "utc": true}, {"year": 2024, "month": 7, "date": 13, "utc": true}]}},
        "y": {"field": "v", "type": "quantitative", "scale": {"domain": [41.53, 86.83], "nice": false, "zero": false}},
        "shape": {"field": "a", "type": "nominal", "legend": null, "scale": {"domain": ["a5"], "range": ["M0,0L-18.28,10.53L1.04,21.07Z"]}},
        "size": {"value": 4}
      }
    },
    {
      "data": {"values": [{}]},
      "encoding": {
        "x": {"datum": {"year": 2013, "month": 4, "date": 28, "utc": true}, "type": "temporal", "scale": {"type": "utc", "domain": [{"year": 2013, "month": 4, "date": 28, "utc": true}, {"year": 2024, "month": 7, "date": 13, "utc": true}]}},
        "y": {"datum": 41.53, "type": "quantitative", "scale": {"domain": [41.53, 86.83], "nice": false, "zero": false}}
      },
      "layer": [
        {"mark": {"type": "text", "align": "left", "baseline": "middle", "font": "DejaVu Sans", "fontSize": 6.5, "fontWeight": "bold", "color": "#e8eaef", "dx": -0.5, "dy": 11, "text": "TV"}},
        {"mark": {"type": "text", "align": "left", "baseline": "middle", "fontSize": 7, "color": "#c9ccd4", "dx": 11.5, "dy": 11, "text": "TradingView"}}
      ]
    }
  ]
}
]
}
